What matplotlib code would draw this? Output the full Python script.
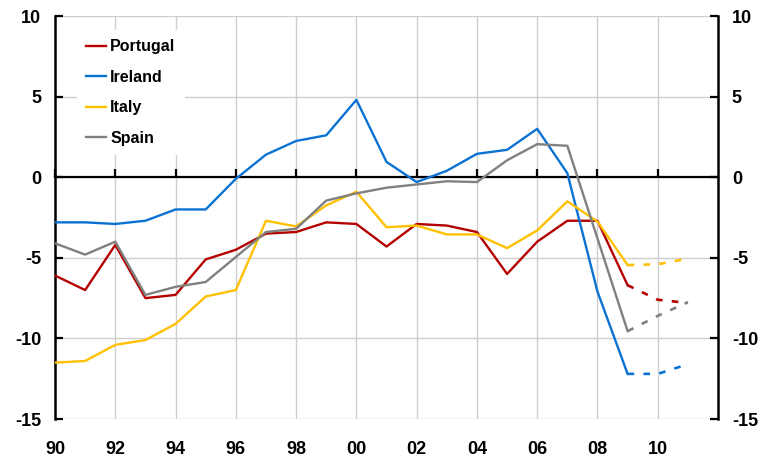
# Current account balances, % of GDP, 1990-2011 (dashed = forecast)

import matplotlib.pyplot as plt

years = list(range(1990, 2010))
fc_years = [2009, 2010, 2011]

portugal = [-6.1, -7.0, -4.2, -7.5, -7.3, -5.1, -4.5, -3.5, -3.4, -2.8,
            -2.9, -4.3, -2.9, -3.0, -3.4, -6.0, -4.0, -2.7, -2.7, -6.7]
portugal_fc = [-6.7, -7.6, -7.8]

ireland = [-2.8, -2.8, -2.9, -2.7, -2.0, -2.0, -0.1, 1.4, 2.25, 2.6,
           4.8, 0.95, -0.3, 0.4, 1.45, 1.7, 3.0, 0.25, -7.1, -12.2]
ireland_fc = [-12.2, -12.2, -11.6]

italy = [-11.5, -11.4, -10.4, -10.1, -9.1, -7.4, -7.0, -2.7, -3.05, -1.75,
         -0.9, -3.1, -3.0, -3.55, -3.55, -4.4, -3.3, -1.5, -2.75, -5.45]
italy_fc = [-5.45, -5.4, -5.05]

spain = [-4.1, -4.8, -4.0, -7.3, -6.8, -6.5, -4.95, -3.4, -3.2, -1.45,
         -1.0, -0.65, -0.45, -0.25, -0.3, 1.05, 2.05, 1.95, -3.8, -9.55]
spain_fc = [-9.55, -8.6, -7.75]

series = [
    ("Portugal", portugal, portugal_fc, "#B40000"),
    ("Ireland", ireland, ireland_fc, "#0A72D2"),
    ("Italy", italy, italy_fc, "#FFC000"),
    ("Spain", spain, spain_fc, "#808080"),
]

x_ticks = list(range(1990, 2012, 2))
x_labels = ["90", "92", "94", "96", "98", "00", "02", "04", "06", "08", "10"]
y_ticks = [-15, -10, -5, 0, 5, 10]

plt.rcParams["font.family"] = ["Liberation Sans", "DejaVu Sans"]
plt.rcParams["axes.unicode_minus"] = False

fig = plt.figure(figsize=(7.65, 4.63), dpi=100)
ax = fig.add_axes([0.0719, 0.095, 0.8667, 0.8704])

for name, actual, forecast, color in series:
    ax.plot(years, actual, color=color, lw=1.7, label=name, zorder=3)
    ax.plot(fc_years, forecast, color=color, lw=1.9, ls=(0, (2.5, 3.5)), zorder=3)

ax.set_xlim(1990, 2012)
ax.set_ylim(-15, 10)
ax.set_yticks(y_ticks)
ax.set_xticks(x_ticks)

ax.grid(True, color="#CFCFCF", lw=1.0, zorder=0)
ax.set_axisbelow(True)

# bottom spine sits on the zero line, ticks pointing up, no labels there
ax.spines["bottom"].set_position(("data", 0))
ax.spines["bottom"].set_linewidth(1.6)
ax.spines["top"].set_visible(False)
for side in ["left", "right"]:
    ax.spines[side].set_linewidth(1.8)

ax.tick_params(axis="x", direction="in", length=6, width=1.6, labelbottom=False)
ax.tick_params(axis="y", direction="in", length=6, width=1.6, right=True,
               labelright=True, labelsize=13, pad=10)
for lbl in ax.get_yticklabels():
    lbl.set_fontweight("bold")

sec = ax.secondary_xaxis(-0.0)
sec.set_xticks(x_ticks, x_labels)
sec.spines["bottom"].set_visible(False)
sec.tick_params(length=0, labelsize=13, pad=16)
for lbl in sec.get_xticklabels():
    lbl.set_fontweight("bold")

leg = ax.legend(loc="upper left", bbox_to_anchor=(0.033, 0.965),
                prop={"size": 11.5, "weight": "bold"},
                frameon=True, framealpha=1, facecolor="white", edgecolor="none",
                handlelength=1.25, handletextpad=0.25, labelspacing=0.97,
                borderpad=0.58, borderaxespad=0, fancybox=False)
leg.set_zorder(4)

fig.savefig("out.png", dpi=100)
